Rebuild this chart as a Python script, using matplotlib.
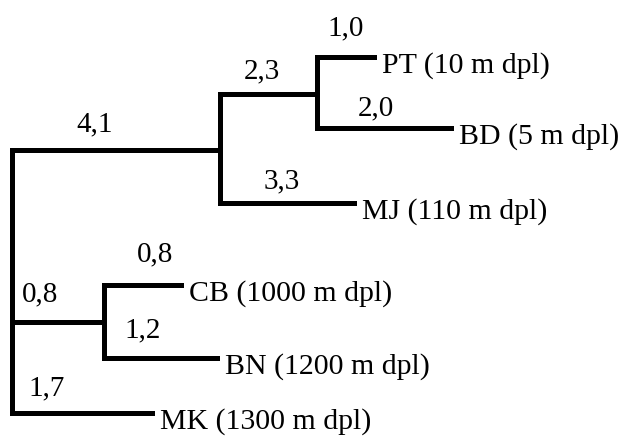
import matplotlib.pyplot as plt

plt.rcParams['font.family'] = ['Liberation Serif', 'DejaVu Serif']

# tree: parent -> child, with the branch value shown on the dendrogram
parents = ["root", "A", "B", "B", "A", "root", "C", "C", "root"]
children = ["A", "B", "PT", "BD", "MJ", "C", "CB", "BN", "MK"]
branch_values = ["4,1", "2,3", "1,0", "2,0", "3,3", "0,8", "0,8", "1,2", "1,7"]

# leaf names and altitude
leaves = ["PT", "BD", "MJ", "CB", "BN", "MK"]
altitudes = [10, 5, 110, 1000, 1200, 1300]

# drawing layout (pixel-like axes coords, schematic, not to scale)
node_x = {"root": 12, "A": 220, "B": 317, "C": 104,
          "PT": 374, "BD": 451, "MJ": 354, "CB": 181, "BN": 217, "MK": 152}
node_y = {"A": 150, "B": 94, "C": 322,
          "PT": 57, "BD": 128, "MJ": 203, "CB": 285, "BN": 358, "MK": 413}
value_pos = [(95, 124), (262, 71), (346, 28), (376, 108), (282, 181),
             (155, 254), (40, 294), (143, 330), (47, 388)]

fig = plt.figure(figsize=(6.22, 4.36), dpi=100)
ax = fig.add_axes([0, 0, 1, 1])
ax.set_xlim(0, 622)
ax.set_ylim(436, 0)
ax.axis("off")

lw = 3.6
# horizontal branches
for p, c in zip(parents, children):
    ax.plot([node_x[p], node_x[c]], [node_y[c], node_y[c]], color="black",
            lw=lw, solid_capstyle="projecting")

# vertical connectors
for p in set(parents):
    ys = [node_y[c] for pp, c in zip(parents, children) if pp == p]
    ax.plot([node_x[p], node_x[p]], [min(ys), max(ys)], color="black",
            lw=lw, solid_capstyle="projecting")

# branch values
for v, (x, y) in zip(branch_values, value_pos):
    ax.text(x, y, v, fontsize=21, ha="center", va="center")

# leaf labels
for name, alt in zip(leaves, altitudes):
    ax.text(node_x[name] + 8, node_y[name] + 9, f"{name} ({alt} m dpl)",
            fontsize=21.5, ha="left", va="center")

fig.savefig("out.png", dpi=100)
